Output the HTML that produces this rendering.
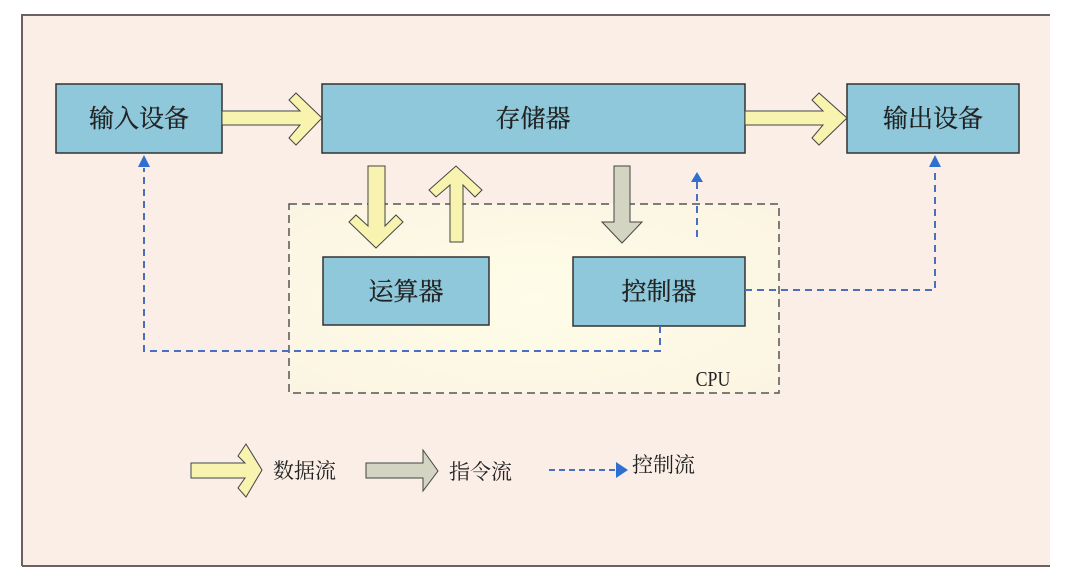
<!DOCTYPE html>
<html><head><meta charset="utf-8"><style>
body{margin:0;background:#fff;width:1066px;height:580px;overflow:hidden}
svg{display:block}
text{font-family:"Liberation Serif","Noto Serif CJK SC",serif;fill:#222}
</style></head><body>
<svg width="1066" height="580" viewBox="0 0 1066 580">
<defs>
<radialGradient id="cpu" cx="0.5" cy="0.5" r="0.7"><stop offset="0" stop-color="#fefde8"/><stop offset="1" stop-color="#fbf4e2"/></radialGradient>
</defs>
<rect x="0" y="0" width="1066" height="580" fill="#fff"/>
<rect x="22" y="15" width="1028" height="551" fill="#faeee6"/>
<path d="M22 566 V15 H1050" fill="none" stroke="#6a6260" stroke-width="2"/>
<line x1="22" y1="566" x2="1050" y2="566" stroke="#6a6260" stroke-width="2"/>
<rect x="289" y="204" width="490" height="189" fill="url(#cpu)" stroke="#555" stroke-width="1.5" stroke-dasharray="8,5"/>
<g fill="#8ec8da" stroke="#333" stroke-width="1.5">
<rect x="56" y="84" width="166" height="69"/>
<rect x="322" y="84" width="423" height="69"/>
<rect x="847" y="84" width="172" height="69"/>
<rect x="323" y="257" width="166" height="68"/>
<rect x="573" y="257" width="172" height="69"/>
</g>
<g font-size="25" text-anchor="middle" stroke="#222" stroke-width="0.3">
<text x="139" y="127">输入设备</text>
<text x="533" y="127">存储器</text>
<text x="933" y="127">输出设备</text>
<text x="406" y="300">运算器</text>
<text x="659" y="300">控制器</text>
</g>
<text x="713" y="386" font-size="21" text-anchor="middle" fill="#444" transform="translate(713 0) scale(0.85 1) translate(-713 0)">CPU</text>
<g fill="#f8f4b0" stroke="#444" stroke-width="1">
<path d="M222 111 H300 L289 100 L296 93 L322 118 L296 145 L289 138 L300 125 H222 Z"/>
<path d="M745 111 H823 L812 100 L819 93 L847 118 L819 145 L812 138 L823 125 H745 Z"/>
<path d="M368 166 H385 V226 L396 215 L403 222 L376 248 L349 222 L356 215 L368 226 Z"/>
<path d="M450 242 H463 V185 L475 197 L482 190 L456 166 L429 190 L436 197 L450 185 Z"/>
</g>
<path d="M614 166 H630 V222 H642 L622 243 L602 222 H614 Z" fill="#d3d4c2" stroke="#444" stroke-width="1"/>
<g fill="none" stroke="#4a6fc0" stroke-width="2" stroke-dasharray="7,5">
<path d="M697 237 V180"/>
<path d="M745 290 H935 V168"/>
<path d="M660 326 V351 H144 V168"/>
</g>
<g fill="#2f6fd0">
<path d="M697 172 L691 182 H703 Z"/>
<path d="M935 155 L929 167 H941 Z"/>
<path d="M144 155 L138 167 H150 Z"/>
</g>
<path d="M191 463 H245 L238 456 L246 444 L262 470 L246 497 L238 488 L245 478 H191 Z" fill="#f8f4b0" stroke="#444" stroke-width="1"/>
<text x="273" y="478" font-size="21">数据流</text>
<path d="M366 463 H423 V450 L438 471 L423 491 V478 H366 Z" fill="#d3d4c2" stroke="#444" stroke-width="1"/>
<text x="449" y="479" font-size="21">指令流</text>
<path d="M549 470 H616" stroke="#4a6fc0" stroke-width="2" stroke-dasharray="6,4"/>
<path d="M628 470 L616 462 V478 Z" fill="#2f6fd0"/>
<text x="632" y="472" font-size="21">控制流</text>
</svg>
</body></html>
